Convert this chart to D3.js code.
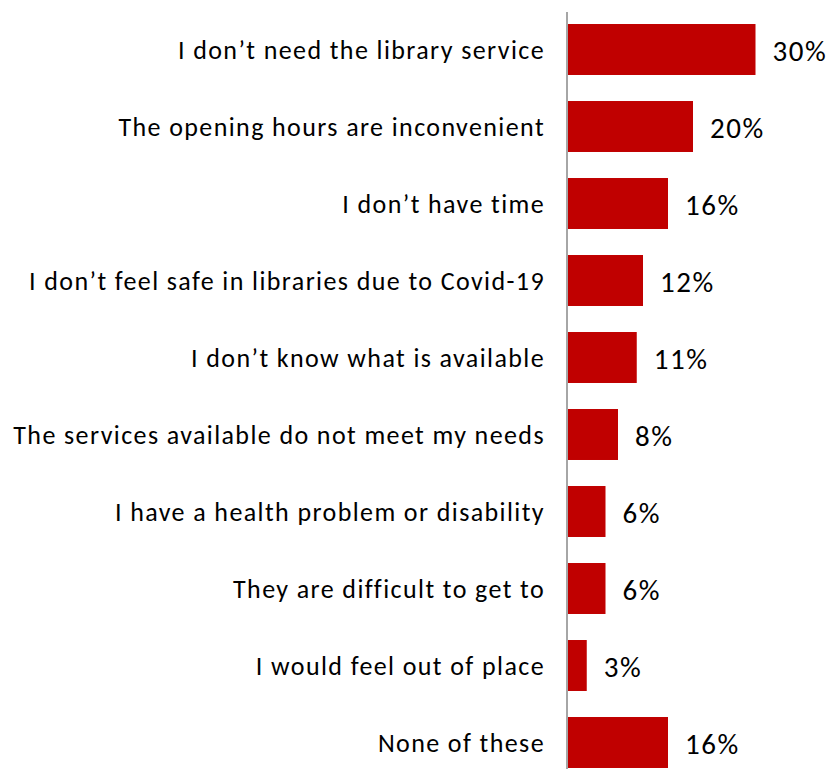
<!DOCTYPE html>
<html>
<head>
<meta charset="utf-8">
<script src="https://cdn.jsdelivr.net/npm/d3@7"></script>
<style>
  html, body { margin: 0; padding: 0; background: #ffffff; }
  svg { display: block; }
  text { font-family: Carlito, Lato, "Open Sans", sans-serif; fill: #000000; }
</style>
</head>
<body>
<svg id="chart" width="830" height="769"></svg>
<script>
// Reasons for not using the library service (% of respondents)
const categories = [
  "I don\u2019t need the library service",
  "The opening hours are inconvenient",
  "I don\u2019t have time",
  "I don\u2019t feel safe in libraries due to Covid-19",
  "I don\u2019t know what is available",
  "The services available do not meet my needs",
  "I have a health problem or disability",
  "They are difficult to get to",
  "I would feel out of place",
  "None of these"
];
const values = [30, 20, 16, 12, 11, 8, 6, 6, 3, 16];
const valueLabels = ["30%", "20%", "16%", "12%", "11%", "8%", "6%", "6%", "3%", "16%"];

const svg = d3.select("#chart");
const axisX = 567;

const x = d3.scaleLinear().domain([0, 30]).range([axisX + 1, 755.5]);
const y = d3.scaleBand()
  .domain(categories)
  .range([11, 781])
  .paddingInner(0.338)
  .paddingOuter(0.169);

const rows = categories.map((c, i) => ({ cat: c, val: values[i], label: valueLabels[i] }));

// bars
svg.append("g").selectAll("rect")
  .data(rows)
  .join("rect")
  .attr("x", x(0))
  .attr("y", d => y(d.cat))
  .attr("width", d => x(d.val) - x(0))
  .attr("height", y.bandwidth())
  .attr("fill", "#C00000");

// category axis on the left
const yAxis = d3.axisLeft(y).tickSize(0).tickPadding(22);
const gAxis = svg.append("g")
  .attr("transform", `translate(${axisX},0)`)
  .call(yAxis);
gAxis.select(".domain").remove();
gAxis.selectAll("text")
  .attr("font-size", 26)
  .attr("dy", null)
  .attr("y", 9.5)
  .style("letter-spacing", "1.4px")
  .style("font-family", "Carlito, Lato, 'Open Sans', sans-serif");

// vertical axis line
svg.append("line")
  .attr("x1", axisX).attr("x2", axisX)
  .attr("y1", 12).attr("y2", 769)
  .attr("stroke", "#A6A6A6")
  .attr("stroke-width", 2);

// value labels
svg.append("g").selectAll("text")
  .data(rows)
  .join("text")
  .attr("x", d => x(d.val) + 17)
  .attr("y", d => y(d.cat) + y.bandwidth() / 2 + 11)
  .attr("font-size", 29)
  .style("letter-spacing", "1.5px")
  .text(d => d.label);
</script>
</body>
</html>
